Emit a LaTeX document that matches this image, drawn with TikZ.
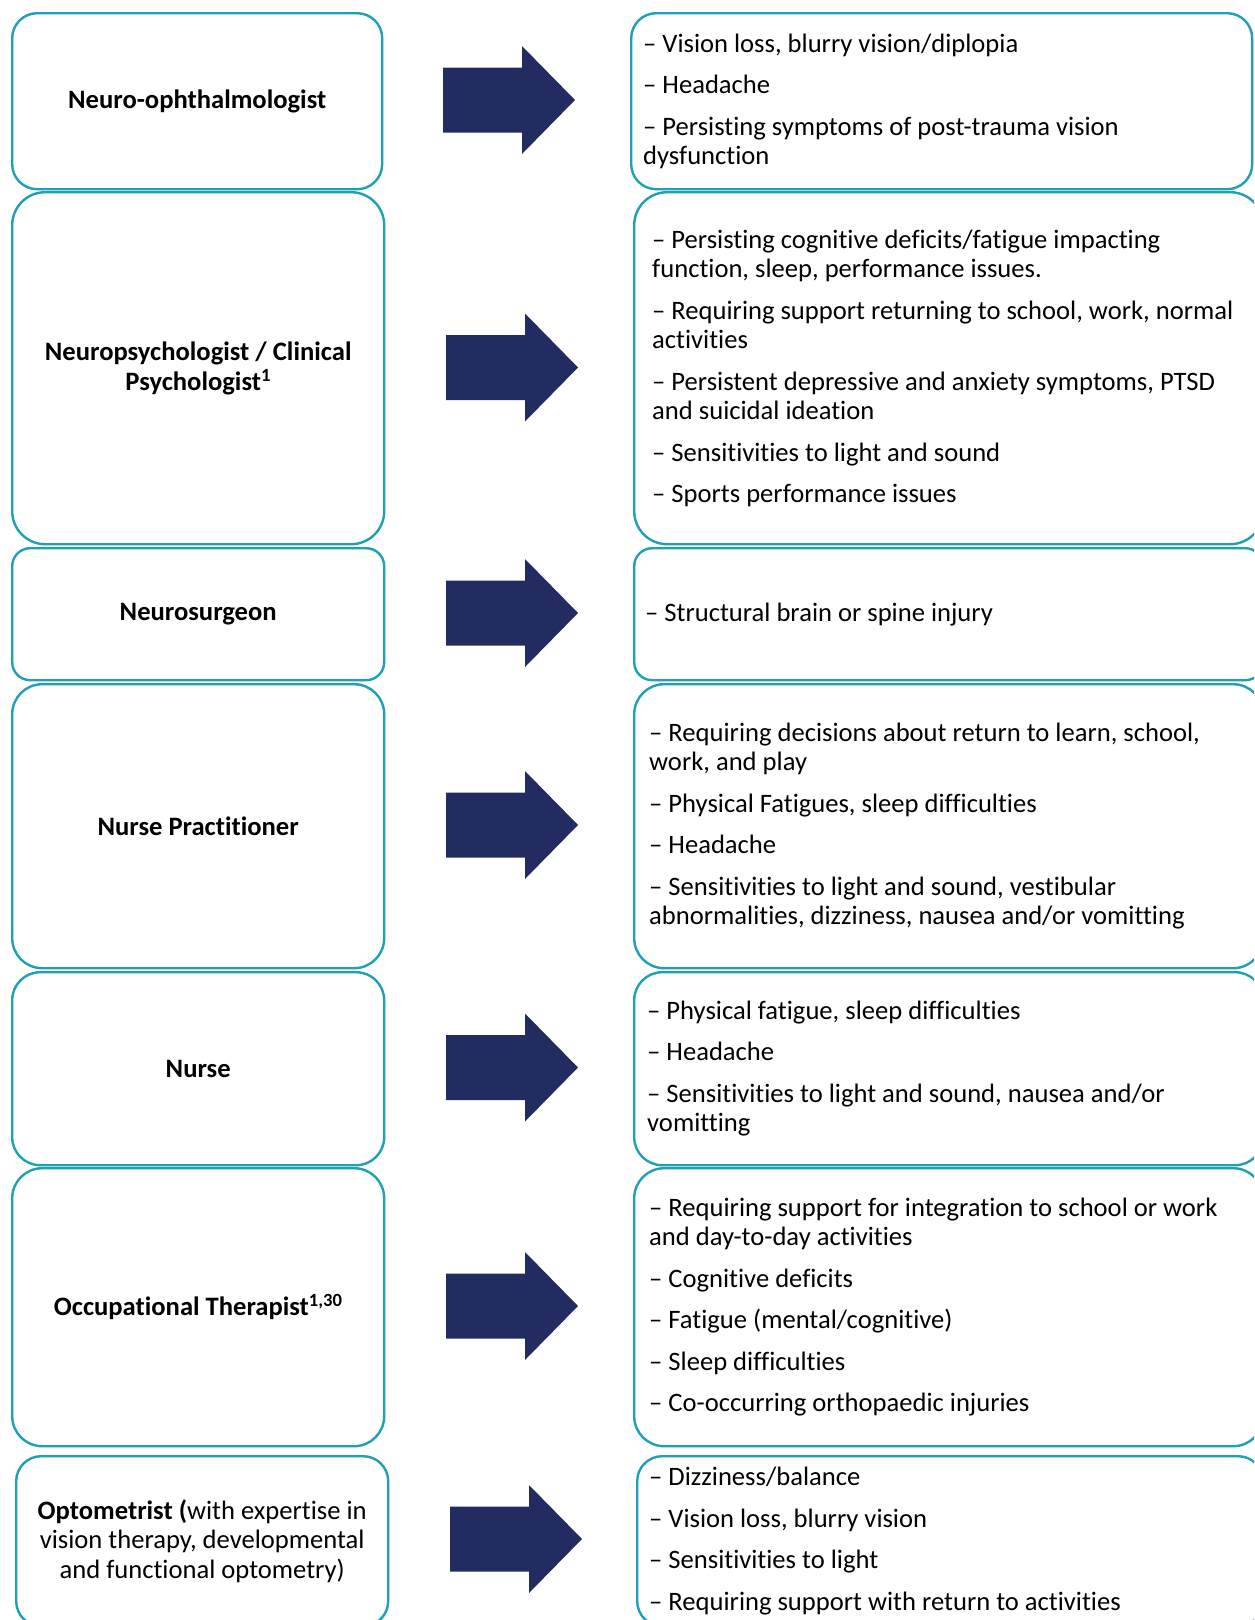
\documentclass[tikz,border=0pt]{standalone}
\usepackage{fontspec}
\setmainfont{Carlito}[Ligatures=NoCommon]
\definecolor{rim}{RGB}{30,160,182}
\definecolor{navy}{RGB}{35,44,96}
\tikzset{
  card/.style={draw=rim, line width=2.4pt, fill=white, anchor=north west, inner sep=0},
  role/.style={font=\bfseries\fontsize{26.6}{30}\selectfont, align=center, inner sep=0},
  notes/.style={font=\fontsize{26.6}{29.5}\selectfont, align=left, anchor=west, inner sep=0},
  fatarrow/.pic={\fill[navy] (0,-32.5) -- (79,-32.5) -- (79,-54) -- (132,0) -- (79,54) -- (79,32.5) -- (0,32.5) -- cycle;}
}
\newcommand{\gap}{\\[12pt]}
\begin{document}
\begin{tikzpicture}[x=1pt, y=-1pt]
\useasboundingbox (0,0) rectangle (1254,1620);
\clip (0,0) rectangle (1254,1620);

% Row 1
\node[card, rounded corners=25pt, minimum width=370, minimum height=176] (L1) at (11,12) {};
\node[role] (L1t) at (L1) {Neuro-ophthalmologist};
\pic at (443,100) {fatarrow};
\node[card, rounded corners=25pt, minimum width=621, minimum height=176] (R1) at (630,12) {};
\node[notes] (R1t) at ([xshift=13pt]R1.west) {– Vision loss, blurry vision/diplopia\gap
– Headache\gap
– Persisting symptoms of post-trauma vision\\ dysfunction};

% Row 2
\node[card, rounded corners=33pt, minimum width=372, minimum height=352] (L2) at (11,191) {};
\node[role] (L2t) at (L2) {Neuropsychologist / Clinical\\ Psychologist\textsuperscript{1}};
\pic at (446,367.5) {fatarrow};
\node[card, rounded corners=33pt, minimum width=629, minimum height=352] (R2) at (633,191) {};
\node[notes] (R2t) at ([xshift=19pt]R2.west) {– Persisting cognitive deficits/fatigue impacting\\ function, sleep, performance issues.\gap
– Requiring support returning to school, work, normal\\ activities\gap
– Persistent depressive and anxiety symptoms, PTSD\\ and suicidal ideation\gap
– Sensitivities to light and sound\gap
– Sports performance issues};

% Row 3
\node[card, rounded corners=18pt, minimum width=372, minimum height=132] (L3) at (11,547) {};
\node[role] (L3t) at (L3) {Neurosurgeon};
\pic at (446,613) {fatarrow};
\node[card, rounded corners=18pt, minimum width=629, minimum height=132] (R3) at (633,547) {};
\node[notes] (R3t) at ([xshift=12pt]R3.west) {– Structural brain or spine injury};

% Row 4
\node[card, rounded corners=30pt, minimum width=372, minimum height=284] (L4) at (11,683) {};
\node[role] (L4t) at (L4) {Nurse Practitioner};
\pic at (446,825) {fatarrow};
\node[card, rounded corners=30pt, minimum width=629, minimum height=284] (R4) at (633,683) {};
\node[notes] (R4t) at ([xshift=16pt]R4.west) {– Requiring decisions about return to learn, school,\\ work, and play\gap
– Physical Fatigues, sleep difficulties\gap
– Headache\gap
– Sensitivities to light and sound, vestibular\\ abnormalities, dizziness, nausea and/or vomitting};

% Row 5
\node[card, rounded corners=28pt, minimum width=372, minimum height=193] (L5) at (11,971) {};
\node[role] (L5t) at (L5) {Nurse};
\pic at (446,1067.5) {fatarrow};
\node[card, rounded corners=28pt, minimum width=629, minimum height=193] (R5) at (633,971) {};
\node[notes] (R5t) at ([xshift=14pt]R5.west) {– Physical fatigue, sleep difficulties\gap
– Headache\gap
– Sensitivities to light and sound, nausea and/or\\ vomitting};

% Row 6
\node[card, rounded corners=30pt, minimum width=372, minimum height=278] (L6) at (11,1167) {};
\node[role] (L6t) at (L6) {Occupational Therapist\textsuperscript{1,30}};
\pic at (446,1306) {fatarrow};
\node[card, rounded corners=30pt, minimum width=629, minimum height=278] (R6) at (633,1167) {};
\node[notes] (R6t) at ([xshift=16pt]R6.west) {– Requiring support for integration to school or work\\ and day-to-day activities\gap
– Cognitive deficits\gap
– Fatigue (mental/cognitive)\gap
– Sleep difficulties\gap
– Co-occurring orthopaedic injuries};

% Row 7
\node[card, rounded corners=25pt, minimum width=372, minimum height=170] (L7) at (15,1455) {};
\node[role, font=\fontsize{26.6}{29.5}\selectfont] (L7t) at (L7) {\textbf{Optometrist (}with expertise in\\ vision therapy, developmental\\ and functional optometry)};
\pic at (450,1539) {fatarrow};
\node[card, rounded corners=25pt, minimum width=626, minimum height=170] (R7) at (636,1455) {};
\node[notes] (R7t) at ([xshift=13pt]R7.west) {– Dizziness/balance\gap
– Vision loss, blurry vision\gap
– Sensitivities to light\gap
– Requiring support with return to activities};
\end{tikzpicture}
\end{document}
